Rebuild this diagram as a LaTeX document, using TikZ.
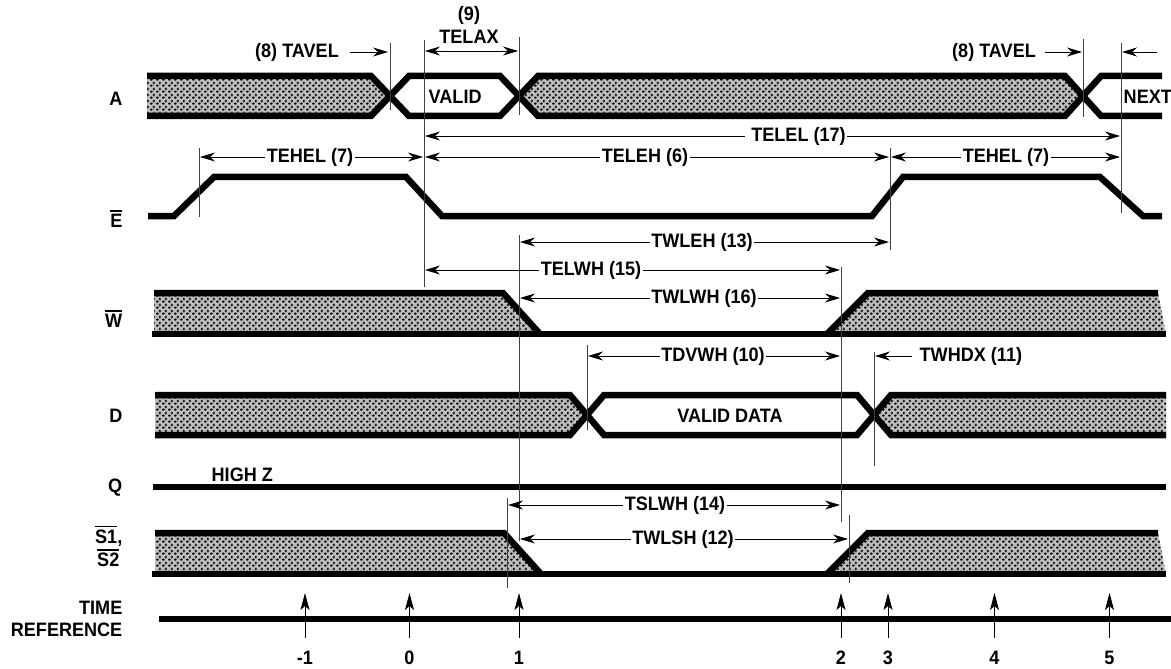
\documentclass[tikz,border=0pt]{standalone}
\usepackage{fontspec}
\setmainfont{Liberation Sans}
\newfontfamily\narrowsans[FakeStretch=0.93]{Liberation Sans}
\usetikzlibrary{arrows.meta,patterns}

% stipple for "don't care" regions
\pgfdeclarepatternformonly{crossdots}{\pgfqpoint{0bp}{0bp}}{\pgfqpoint{6bp}{6bp}}{\pgfqpoint{6bp}{6bp}}{%
  \pgfpathrectangle{\pgfqpoint{0bp}{1bp}}{\pgfqpoint{3bp}{1bp}}%
  \pgfpathrectangle{\pgfqpoint{1bp}{0bp}}{\pgfqpoint{1bp}{3bp}}%
  \pgfpathrectangle{\pgfqpoint{3bp}{4bp}}{\pgfqpoint{3bp}{1bp}}%
  \pgfpathrectangle{\pgfqpoint{4bp}{3bp}}{\pgfqpoint{1bp}{3bp}}%
  \pgfusepath{fill}}

% bar over an active-low name
\newcommand{\ovl}[1]{\setbox0\hbox{#1}\rlap{\rule[\dimexpr\ht0+2.5bp\relax]{\wd0}{1.8bp}}\box0}

\begin{document}
\begin{tikzpicture}[x=1bp, y=-1bp,
                sig/.style={line width=6.5bp, line join=miter},
                hatch/.style={fill=black!25, postaction={pattern=crossdots}},
                guide/.style={line width=0.9bp, black!75},
                dim/.style={{Stealth[length=15bp,width=9bp,inset=5bp]}-{Stealth[length=15bp,width=9bp,inset=5bp]}, line width=0.9bp},
                dimr/.style={-{Stealth[length=15bp,width=9bp,inset=5bp]}, line width=0.9bp},
                tick/.style={-{Stealth[length=17bp,width=9bp,inset=4bp]}, line width=0.9bp},
                lbl/.style={font=\narrowsans\fontsize{19.5}{22}\selectfont\bfseries, inner sep=1.5bp},
                gap/.style={lbl, fill=white},
                signame/.style={lbl, anchor=east, align=right}
            ]
                \useasboundingbox (0,0) rectangle (1171,669);

                % Signal names
                \node[signame] (nA) at (124,99) {A};
                \node[signame] (nE) at (124,219) {\ovl{E}};
                \node[signame] (nW) at (124,319) {\ovl{W}};
                \node[signame] (nD) at (124,416) {D};
                \node[signame] (nQ) at (124,488) {Q};
                \node[signame] (nS1) at (124,536) {\ovl{S1},};
                \node[signame] (nS2) at (121,558) {\ovl{S2}};
                \node[signame] (nT) at (124,619) {TIME\\REFERENCE};

                % Address
                \fill[hatch] (147,76) -- (371,76) -- (390,96) -- (371,116) -- (147,116) -- cycle;
                \fill[hatch] (519,96) -- (538,76) -- (1065,76) -- (1083,96) -- (1065,116) -- (538,116) -- cycle;
                \draw[sig] (147,76) -- (371,76) -- (409,116) -- (500,116) -- (538,76) -- (1065,76) -- (1101,116) -- (1162,116);
                \draw[sig] (147,116) -- (371,116) -- (409,76) -- (500,76) -- (538,116) -- (1065,116) -- (1101,76) -- (1162,76);
                \node[lbl, anchor=west] (valA) at (427,97) {VALID};
                \node[lbl, anchor=west] (nextA) at (1122,97) {NEXT};

                % Enable
                \draw[sig] (148,216) -- (174,216) -- (214,177) -- (406,177) -- (442,216) -- (872,216) -- (903,177) -- (1100,177) -- (1143,216) -- (1162,216);

                % Write
                \fill[hatch] (154,293) -- (503,293) -- (540,334) -- (154,334) -- cycle;
                \fill[hatch] (827,334) -- (868,293) -- (1158,293) -- (1166,334) -- cycle;
                \draw[sig] (154,293) -- (503,293) -- (540,334);
                \draw[sig] (152,334) -- (1166,334);
                \draw[sig] (827,334) -- (868,293) -- (1158,293);

                % Data in
                \fill[hatch] (155,395) -- (570,395) -- (587,415) -- (570,435) -- (155,435) -- cycle;
                \fill[hatch] (874,415) -- (891,395) -- (1166,395) -- (1166,435) -- (891,435) -- cycle;
                \draw[sig] (155,395) -- (570,395) -- (604,435) -- (857,435) -- (891,395) -- (1166,395);
                \draw[sig] (155,435) -- (570,435) -- (604,395) -- (857,395) -- (891,435) -- (1166,435);
                \node[lbl] (valD) at (730,416) {VALID DATA};

                % Output
                \draw[sig] (153,487) -- (1166,487);
                \node[lbl, anchor=west] (hiz) at (210,475) {HIGH Z};

                % Selects
                \fill[hatch] (155,533) -- (504,533) -- (541,574) -- (155,574) -- cycle;
                \fill[hatch] (827,574) -- (868,533) -- (1158,533) -- (1166,574) -- cycle;
                \draw[sig] (155,533) -- (504,533) -- (541,574);
                \draw[sig] (152,574) -- (1166,574);
                \draw[sig] (827,574) -- (868,533) -- (1158,533);

                % Time reference
                \draw[sig] (159,619) -- (1171,619);
                \foreach \x/\t in {305/-1, 409.5/0, 519/1, 841/2, 888/3, 994.5/4, 1109.5/5} {
                    \draw[tick] (\x,638) -- (\x,593);
                    \node[lbl] (t\t) at (\x,658) {\t};
                }

                % Extension lines
                \draw[guide] (199,148) -- (199,217);
                \draw[guide] (390,43) -- (390,110);
                \draw[guide] (424,40) -- (424,287);
                \draw[guide] (519,37) -- (519,115);
                \draw[guide] (519,235) -- (519,541);
                \draw[guide] (507,498) -- (507,588);
                \draw[guide] (587,345) -- (587,430);
                \draw[guide] (841,267) -- (841,522);
                \draw[guide] (849.5,515) -- (849.5,583);
                \draw[guide] (874,352) -- (874,466);
                \draw[guide] (890,148) -- (890,250);
                \draw[guide] (1083,39) -- (1083,117);
                \draw[guide] (1121,43) -- (1121,213);

                % Timing parameters
                \draw[dimr] (350,52) -- (388,52);
                \node[lbl] (tavelA) at (297,52) {(8) TAVEL};
                \draw[dim] (425,51) -- (518,51);
                \node[lbl] (telax) at (469,37) {TELAX};
                \node[lbl] (telaxN) at (469,15) {(9)};
                \draw[dimr] (1045,52) -- (1082,52);
                \node[lbl] (tavelB) at (994,52) {(8) TAVEL};
                \draw[dimr] (1157,52) -- (1122,52);

                \draw[dim] (425,136) -- (1120,136);
                \node[gap] (telel) at (796,136) {\ TELEL (17)\ };
                \draw[dim] (200,157) -- (423,157);
                \node[gap] (tehelA) at (310,157) {TEHEL (7)};
                \draw[dim] (425,157) -- (889,157);
                \node[gap] (teleh) at (645,157) {TELEH (6)};
                \draw[dim] (891,157) -- (1120,157);
                \node[gap] (tehelB) at (1006,157) {TEHEL (7)};

                \draw[dim] (520,242) -- (889,242);
                \node[gap] (twleh) at (702,242) {TWLEH (13)};
                \draw[dim] (425,270) -- (840,270);
                \node[gap] (telwh) at (591,270) {TELWH (15)};
                \draw[dim] (520,298) -- (840,298);
                \node[gap] (twlwh) at (704,298) {TWLWH (16)};

                \draw[dim] (588,356) -- (840,356);
                \node[gap] (tdvwh) at (713,356) {TDVWH (10)};
                \draw[dimr] (912,356) -- (875,356);
                \node[lbl, anchor=west] (twhdx) at (918,356) {TWHDX (11)};

                \draw[dim] (508,505) -- (840,505);
                \node[gap] (tslwh) at (675,505) {TSLWH (14)};
                \draw[dim] (520,539) -- (848,539);
                \node[gap] (twlsh) at (683,539) {TWLSH (12)};
            \end{tikzpicture}
\end{document}
